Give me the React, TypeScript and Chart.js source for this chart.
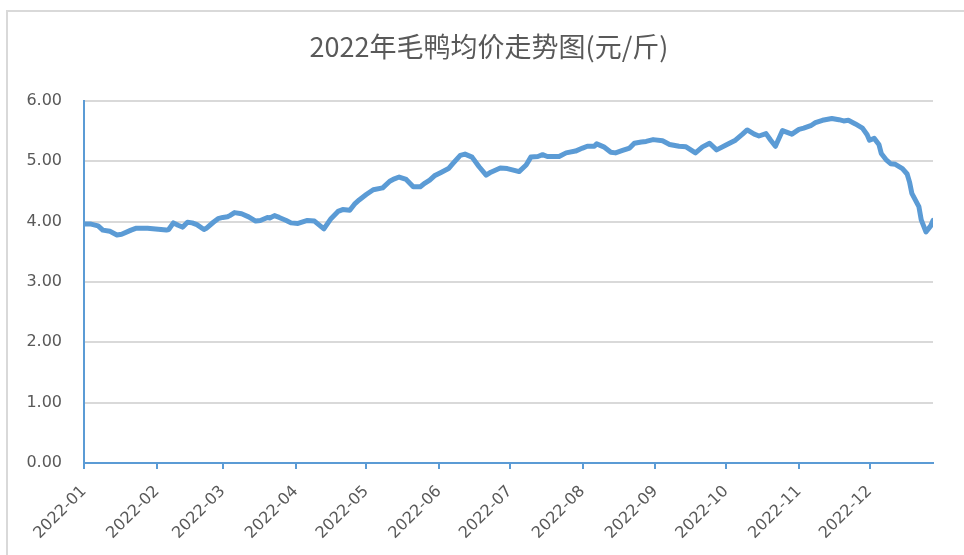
import React, { useEffect, useRef } from "react";
import { Chart, registerables } from "chart.js";

Chart.register(...registerables);

const title = "2022年毛鸭均价走势图(元/斤)";
const monthLabels = ["2022-01", "2022-02", "2022-03", "2022-04", "2022-05", "2022-06", "2022-07", "2022-08", "2022-09", "2022-10", "2022-11", "2022-12"];
const monthStarts = [0, 31, 59, 90, 120, 151, 181, 212, 243, 273, 304, 334];
const lastDay = 361;
const yTicks = [0, 1, 2, 3, 4, 5, 6];

// days since 2022-01-01
const days = [
  0, 3, 6, 8, 11, 14, 16, 20, 22, 27, 35, 36, 38, 40, 42, 44, 46, 48, 51, 52,
  55, 57, 59, 61, 62, 64, 67, 70, 73, 75, 78, 79, 81, 83, 86, 88, 91, 95, 98, 102,
  105, 108, 110, 113, 115, 117, 120, 123, 127, 130, 132, 134, 137, 140, 143, 145, 147, 149, 152, 155,
  157, 160, 162, 165, 168, 171, 173, 177, 180, 183, 185, 188, 190, 193, 195, 197, 202, 205, 209, 212,
  214, 217, 218, 221, 224, 226, 229, 232, 234, 237, 239, 242, 246, 249, 253, 256, 260, 263, 266, 269,
  273, 277, 280, 282, 285, 287, 290, 292, 294, 297, 301, 304, 306, 309, 311, 314, 318, 321, 323, 325,
  328, 331, 333, 334, 336, 338, 339, 341, 343, 345, 348, 350, 351, 352, 355, 356, 358, 360, 361,
];
const prices = [
  3.96, 3.96, 3.93, 3.86, 3.84, 3.78, 3.79, 3.86, 3.89, 3.89, 3.86, 3.87, 3.98, 3.94, 3.91, 3.99, 3.98, 3.95, 3.87, 3.89,
  3.99, 4.05, 4.07, 4.08, 4.10, 4.15, 4.13, 4.08, 4.01, 4.02, 4.07, 4.06, 4.10, 4.07, 4.02, 3.98, 3.97, 4.02, 4.01, 3.88,
  4.05, 4.17, 4.20, 4.19, 4.29, 4.36, 4.45, 4.53, 4.56, 4.67, 4.71, 4.74, 4.70, 4.58, 4.58, 4.64, 4.69, 4.76, 4.82, 4.88,
  4.97, 5.10, 5.12, 5.07, 4.91, 4.77, 4.82, 4.89, 4.88, 4.85, 4.83, 4.94, 5.07, 5.08, 5.11, 5.08, 5.08, 5.14, 5.17, 5.22,
  5.25, 5.25, 5.29, 5.24, 5.15, 5.14, 5.18, 5.22, 5.30, 5.32, 5.33, 5.36, 5.34, 5.28, 5.25, 5.24, 5.14, 5.24, 5.30, 5.19,
  5.27, 5.35, 5.45, 5.52, 5.45, 5.42, 5.46, 5.35, 5.25, 5.51, 5.45, 5.53, 5.55, 5.59, 5.64, 5.68, 5.71, 5.69, 5.67, 5.68,
  5.62, 5.55, 5.44, 5.35, 5.38, 5.28, 5.13, 5.03, 4.96, 4.95, 4.88, 4.79, 4.66, 4.47, 4.25, 4.03, 3.83, 3.93, 4.02,
];

const LINE = "#5B9BD5";
const TEXT = "#595959";
const GRID = "#D9D9D9";

const framePlugin = {
  id: "frameAndTitle",
  beforeDraw(chart: any) {
    const ctx = chart.ctx;
    ctx.save();
    ctx.fillStyle = "#ffffff";
    ctx.fillRect(0, 0, chart.width, chart.height);
    ctx.strokeStyle = GRID;
    ctx.lineWidth = 2;
    ctx.strokeRect(7, 11, chart.width + 20, chart.height + 20);
    ctx.fillStyle = TEXT;
    ctx.font = "27px 'Noto Sans CJK SC'";
    ctx.textAlign = "center";
    ctx.textBaseline = "middle";
    ctx.fillText(title, 489, 47);
    ctx.restore();
  },
};

export default function App() {
  const ref = useRef<HTMLCanvasElement | null>(null);
  useEffect(() => {
    if (!ref.current) return;
    const chart = new Chart(ref.current, {
      type: "line",
      data: {
        datasets: [
          {
            data: days.map((d, i) => ({ x: d, y: prices[i] })),
            borderColor: LINE,
            borderWidth: 5,
            pointRadius: 0,
            tension: 0,
            fill: false,
            borderJoinStyle: "round",
            borderCapStyle: "round",
          },
        ],
      },
      options: {
        animation: false,
        responsive: false,
        maintainAspectRatio: false,
        layout: { padding: { left: 0, top: 101, right: 31, bottom: 0 } },
        plugins: { legend: { display: false }, tooltip: { enabled: false }, title: { display: false } },
        scales: {
          x: {
            type: "linear",
            min: 0,
            max: lastDay,
            afterBuildTicks: (scale: any) => {
              scale.ticks = monthStarts.map((v) => ({ value: v }));
            },
            afterFit: (scale: any) => {
              scale.height = 92;
            },
            ticks: {
              autoSkip: false,
              minRotation: 45,
              maxRotation: 45,
              padding: 13,
              color: TEXT,
              font: { family: "'DejaVu Sans'", size: 16 },
              callback: (v: any) => {
                const i = monthStarts.indexOf(Number(v));
                return i >= 0 ? monthLabels[i] : "";
              },
            },
            grid: { drawOnChartArea: false, drawTicks: true, tickLength: 6, color: LINE, lineWidth: 2 },
            border: { color: LINE, width: 2 },
          },
          y: {
            min: 0,
            max: 6,
            afterBuildTicks: (scale: any) => {
              scale.ticks = yTicks.map((v) => ({ value: v }));
            },
            afterFit: (scale: any) => {
              scale.width = 84;
            },
            ticks: {
              padding: 22,
              color: TEXT,
              font: { family: "'DejaVu Sans'", size: 16 },
              callback: (v: any) => Number(v).toFixed(2),
            },
            grid: { color: GRID, lineWidth: 2, drawTicks: false },
            border: { color: LINE, width: 2 },
          },
        },
      },
      plugins: [framePlugin],
    });
    return () => chart.destroy();
  }, []);
  return (
    <div style={{ position: "fixed", left: 0, top: 0, width: 964, height: 555, background: "#fff" }}>
      <canvas ref={ref} width={964} height={555} style={{ width: 964, height: 555, display: "block" }} />
    </div>
  );
}
